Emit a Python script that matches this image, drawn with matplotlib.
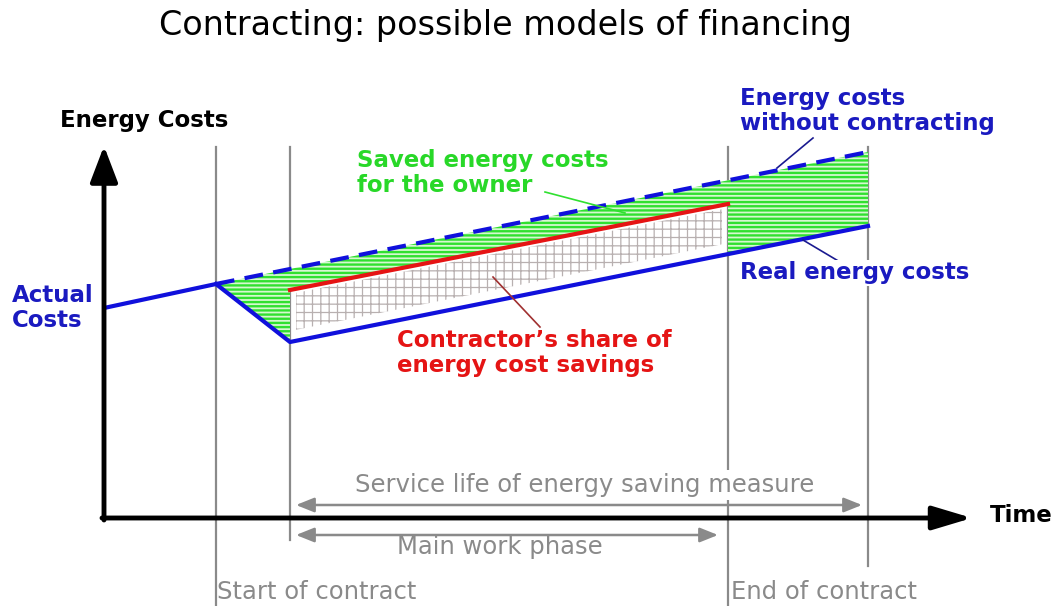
import numpy as np
import matplotlib
matplotlib.use("Agg")
import matplotlib.pyplot as plt

# Diagram drawn in picture coordinates: x = time, y = cost (downwards)
ORIGIN_T, ORIGIN_C = 104, 518
AXIS_T_END, AXIS_C_END = 972, 146

# Vertical phase markers: start of contract, start of savings, end of contract, end of service life
phase_t = [216, 290, 728, 868]
phase_bottom = [606, 540, 606, 566]
phase_top = 147

# Energy costs without contracting (solid up to start, dashed afterwards)
without_t = [104, 216, 868]
without_c = [308, 284, 152]

# Real energy costs
real_t = [216, 290, 868]
real_c = [284, 342, 226]

# Contractor's share boundary
share_t = [290, 728]
share_c = [290, 204]

BLUE = "#1010dc"
BLUE_TXT = "#1a1ac0"
RED = "#e51414"
GREEN = "#30e030"
GREEN_BG = "#d6f8d0"
GRAY = "#8a8a8a"


def without(t):
    return np.interp(t, without_t, without_c)


def real(t):
    return np.interp(t, real_t, real_c)


def share(t):
    return np.interp(t, share_t, share_c)


fig = plt.figure(figsize=(10.57, 6.06), dpi=100)
ax = fig.add_axes([0, 0, 1, 1])
ax.set_xlim(0, 1057)
ax.set_ylim(606, 0)
ax.axis("off")

# phase markers
for t, b in zip(phase_t, phase_bottom):
    ax.plot([t, t], [phase_top, b], color=GRAY, lw=1.6, zorder=1)

# saved energy costs for the owner (green hatch)
with plt.rc_context({"hatch.linewidth": 1.7}):
    t1 = np.linspace(phase_t[0], phase_t[1], 50)
    t2 = np.linspace(phase_t[1], phase_t[2], 100)
    t3 = np.linspace(phase_t[2], phase_t[3], 50)
    for tt, bottom in [(t1, real(t1)), (t2, share(t2)), (t3, real(t3))]:
        ax.fill_between(tt, without(tt), bottom, facecolor=GREEN_BG,
                        edgecolor=GREEN, hatch="----", lw=0, zorder=2)

# contractor's share (grey grid)
with plt.rc_context({"hatch.linewidth": 0.9}):
    tg = np.linspace(phase_t[1] + 6, phase_t[2] - 6, 100)
    ax.fill_between(tg, share(tg) + 4, real(tg) - 11, facecolor="white",
                    edgecolor="#b8b0b0", hatch="++", lw=0, zorder=2)

# cost lines
ax.plot(without_t[:2], without_c[:2], color=BLUE, lw=3, zorder=4,
        solid_capstyle="butt")
ax.plot(without_t[1:], without_c[1:], color=BLUE, lw=3, zorder=4,
        dashes=(4.5, 2.5))
ax.plot(real_t, real_c, color=BLUE, lw=3, zorder=4)
ax.plot(share_t, share_c, color=RED, lw=3, zorder=4)

# axes arrows
ax.annotate("", xy=(ORIGIN_T, AXIS_C_END), xytext=(ORIGIN_T, ORIGIN_C + 2),
            arrowprops=dict(arrowstyle="-|>,head_length=1.1,head_width=0.42",
                            color="black", lw=3.5, mutation_scale=20,
                            shrinkA=0, shrinkB=0), zorder=5)
ax.annotate("", xy=(AXIS_T_END, ORIGIN_C), xytext=(ORIGIN_T - 2, ORIGIN_C),
            arrowprops=dict(arrowstyle="-|>,head_length=1.2,head_width=0.36",
                            color="black", lw=3.5, mutation_scale=20,
                            shrinkA=0, shrinkB=0), zorder=5)

# period arrows
ax.annotate("", xy=(phase_t[1] + 6, 505), xytext=(phase_t[3] - 6, 505),
            arrowprops=dict(arrowstyle="<|-|>,head_length=0.55,head_width=0.22",
                            color=GRAY, lw=1.8, mutation_scale=20,
                            shrinkA=0, shrinkB=0), zorder=3)
ax.annotate("", xy=(phase_t[1] + 6, 535), xytext=(phase_t[2] - 10, 535),
            arrowprops=dict(arrowstyle="<|-|>,head_length=0.55,head_width=0.22",
                            color=GRAY, lw=1.8, mutation_scale=20,
                            shrinkA=0, shrinkB=0), zorder=3)

# leader lines
ax.plot([813, 777], [138, 168], color="#1a1a90", lw=1.2, zorder=5)
ax.plot([840, 803], [262, 240], color="#1a1a90", lw=1.2, zorder=5)
ax.plot([545, 625], [192, 213], color=GREEN, lw=1.2, zorder=5)
ax.plot([493, 540], [277, 327], color="#a03030", lw=1.2, zorder=5)

# texts
ax.text(505, 25, "Contracting: possible models of financing", ha="center",
        va="center", fontsize=24, family="DejaVu Sans", color="black")

bold = dict(family="DejaVu Sans", weight="bold", fontsize=16.5, va="center",
            linespacing=1.12)
ax.text(60, 121, "Energy Costs", color="black", **bold)
ax.text(990, 516, "Time", color="black", **bold)
ax.text(12, 308, "Actual\nCosts", color=BLUE_TXT, **bold)
ax.text(740, 111, "Energy costs\nwithout contracting", color=BLUE_TXT, **bold)
ax.text(740, 273, "Real energy costs", color=BLUE_TXT, zorder=6,
        bbox=dict(facecolor="white", edgecolor="none", pad=1), **bold)
ax.text(357, 173, "Saved energy costs\nfor the owner", color="#28d828", **bold)
ax.text(397, 353, "Contractor\u2019s share of\nenergy cost savings", color=RED,
        **bold)

plain = dict(family="DejaVu Sans", fontsize=17.5, color=GRAY, va="center")
ax.text(585, 485, "Service life of energy saving measure", ha="center",
        zorder=6, bbox=dict(facecolor="white", edgecolor="none", pad=2),
        **plain)
ax.text(500, 547, "Main work phase", ha="center", **plain)
ax.text(217, 592, "Start of contract", ha="left", **plain)
ax.text(731, 592, "End of contract", ha="left", **plain)

fig.savefig("out.png", dpi=100)
